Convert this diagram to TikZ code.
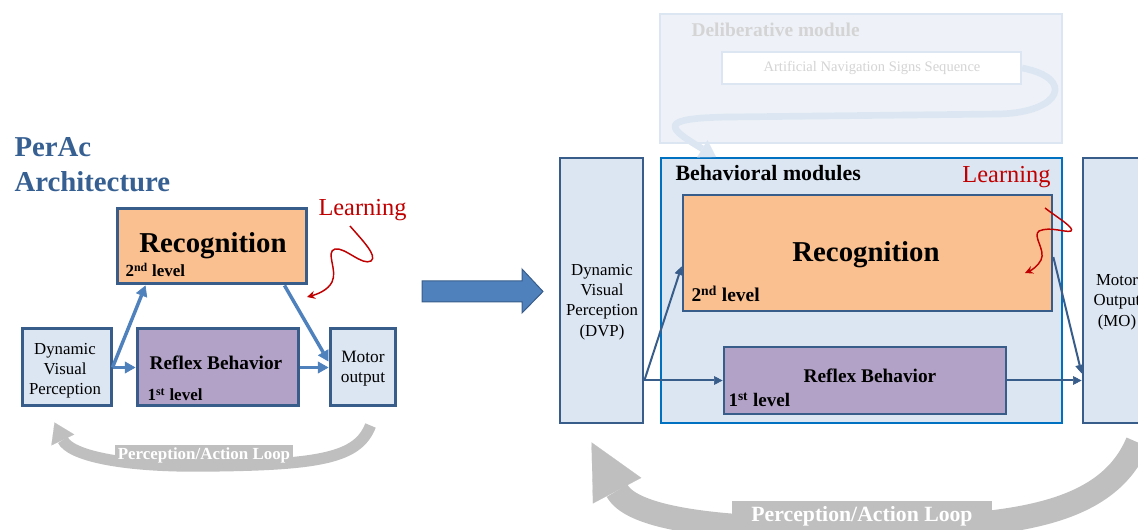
\documentclass[tikz,border=0pt]{standalone}
\usepackage{fontspec}
\setmainfont{Liberation Serif}
\usetikzlibrary{arrows.meta,calc,fit}

\definecolor{boxEdge}{RGB}{56,93,138}
\definecolor{paleBlue}{RGB}{220,230,242}
\definecolor{recogOrange}{RGB}{250,192,144}
\definecolor{reflexPurple}{RGB}{179,162,199}
\definecolor{linkBlue}{RGB}{79,129,189}
\definecolor{behavEdge}{RGB}{0,112,192}
\definecolor{learnRed}{RGB}{192,0,0}
\definecolor{loopGray}{RGB}{191,191,191}
\definecolor{titleBlue}{RGB}{55,96,146}
\definecolor{delibFill}{RGB}{238,242,248}
\definecolor{delibText}{RGB}{212,212,212}

\tikzset{every picture/.style={line width=0.75pt}}
\tikzset{
  boxL/.style={draw=boxEdge, line width=2.25pt, inner sep=0pt},
  boxR/.style={draw=boxEdge, line width=2pt, inner sep=0pt},
  linkL/.style={draw=linkBlue, line width=2.6pt, -{Triangle[length=8pt,width=9pt,line width=0.5pt]}},
  linkR/.style={draw=boxEdge, line width=1.5pt, -{Triangle[length=6.5pt,width=6.5pt,line width=0.5pt]}},
  learnArrow/.style={draw=learnRed, line width=1.1pt, -{Stealth[length=6pt,width=6pt]}},
  loopLabel/.style={fill=loopGray, text=white, inner sep=0pt},
}

\begin{document}
\begin{tikzpicture}[x=0.75pt,y=0.75pt,yscale=-1,xscale=1]
%set diagram size 1138 x 530
\useasboundingbox (0,0) rectangle (1138,530);
\clip (0,0) rectangle (1138,530);

% ---------- left: PerAc architecture ----------
% Text Node
\draw (13,157) node (titleA) [anchor=base west][inner sep=0.75pt] [font=\fontsize{21.6}{26}\selectfont\bfseries, text=titleBlue] {PerAc};
% Text Node
\draw (13,192) node (titleB) [anchor=base west][inner sep=0.75pt] [font=\fontsize{21.6}{26}\selectfont\bfseries, text=titleBlue] {Architecture};

%Shape: Rectangle [id:dp4417]
\node (recogL) [boxL, fill=recogOrange, fit={(117,209) (306,284)}] {};
%Shape: Rectangle [id:dp4418]
\node (dvpL) [boxL, fill=paleBlue, fit={(22,329) (111,406)}] {};
%Shape: Rectangle [id:dp4419]
\node (reflexL) [boxL, fill=reflexPurple, fit={(137,329) (298,406)}] {};
%Shape: Rectangle [id:dp4420]
\node (motorL) [boxL, fill=paleBlue, fit={(330,329) (395,406)}] {};

% Text Node
\draw (213,253) node (recogLtxt) [anchor=base][inner sep=0.75pt] [font=\fontsize{21.6}{26}\selectfont\bfseries] {Recognition};
% Text Node
\draw (124,277) node (lvlTwoL) [anchor=base west][inner sep=0.75pt] [font=\fontsize{12.75}{15}\selectfont\bfseries] {2\textsuperscript{nd} level};
% Text Node
\draw (216,370) node (reflexLtxt) [anchor=base][inner sep=0.75pt] [font=\fontsize{14.5}{17}\selectfont\bfseries] {Reflex Behavior};
% Text Node
\draw (146,401) node (lvlOneL) [anchor=base west][inner sep=0.75pt] [font=\fontsize{12.75}{15}\selectfont\bfseries] {1\textsuperscript{st} level};
% Text Node
\draw (65,371) node (dvpLtxt) [inner sep=0.75pt] [font=\fontsize{12.6}{15}\selectfont, align=center] {Dynamic\\Visual\\Perception};
% Text Node
\draw (363,369) node (motorLtxt) [inner sep=0.75pt] [font=\fontsize{13}{15}\selectfont, align=center] {Motor\\output};

%Straight Lines
\draw [linkL] (dvpL.east) -- ($(recogL.south west)+(30,0)$);
\draw [linkL] (dvpL.east) -- (reflexL.west);
\draw [linkL] ($(recogL.south east)+(-23,0)$) -- ($(motorL.west)+(0,-6)$);
\draw [linkL] (reflexL.east) -- (motorL.west);

% Text Node
\draw (317,216) node (learnL) [anchor=base west][inner sep=0.75pt] [font=\fontsize{18.3}{21}\selectfont, text=learnRed] {Learning};
%Curve Lines
\draw [learnArrow] (350,226) .. controls (362,240) and (378,256) .. (371,261) .. controls (362,266) and (345,247) .. (335,249) .. controls (325,252) and (338,270) .. (332,282) .. controls (328,290) and (318,294) .. (307,297);

%Curve Lines
\draw [draw=loopGray, line width=8.5pt, -{Triangle[length=14.5pt,width=19pt,line width=0.1pt]}] ($(motorL.south)+(8,18)$) .. controls (358,458) and (320,465) .. (205,466) .. controls (120,467) and (70,455) .. ($(dvpL.south)+(-12,15)$);
% Text Node
\node (loopLblL) [loopLabel, minimum width=133.5pt, minimum height=15.75pt, font=\fontsize{12.7}{15}\selectfont\bfseries] at (204,455.5) {Perception/Action Loop};

% ---------- middle arrow ----------
%Shape: Right Arrow [id:dp4421]
\draw [draw=boxEdge, fill=linkBlue, line width=0.75pt] (422,281) -- (522,281) -- (522,269) -- (543,291.5) -- (522,313) -- (522,302) -- (422,302) -- cycle;

% ---------- right: extended architecture ----------
%Shape: Rectangle [id:dp4422]
\node (delib) [draw=paleBlue, fill=delibFill, line width=1.5pt, inner sep=0pt, fit={(660,14) (1062,143)}] {};
%Shape: Rectangle [id:dp4423]
\node (navSeq) [draw=paleBlue, fill=white, line width=1.5pt, inner sep=0pt, fit={(722,52) (1021,84)}] {};
% Text Node
\draw (690,37) node (delibTxt) [anchor=base west][inner sep=0.75pt] [font=\fontsize{14.6}{17}\selectfont\bfseries, text=delibText] {Deliberative module};
% Text Node
\draw (872,72) node (navSeqTxt) [anchor=base][inner sep=0.75pt] [font=\fontsize{10.9}{13}\selectfont, text=delibText] {Artificial Navigation Signs Sequence};

%Shape: Rectangle [id:dp4424]
\node (dvpR) [boxR, fill=paleBlue, fit={(560,158) (643,423)}] {};
%Shape: Rectangle [id:dp4425]
\node (behav) [draw=behavEdge, fill=paleBlue, line width=1.5pt, inner sep=0pt, fit={(661,158) (1062,423)}] {};
%Shape: Rectangle [id:dp4426]
\node (motorR) [boxR, fill=paleBlue, fit={(1083,158) (1152,423)}] {};
%Shape: Rectangle [id:dp4427]
\node (recogR) [boxR, fill=recogOrange, fit={(683,195) (1052,311)}] {};
%Shape: Rectangle [id:dp4428]
\node (reflexR) [boxR, fill=reflexPurple, fit={(724,347) (1006,414)}] {};

%Curve Lines
\draw [draw=paleBlue, line width=5pt, -{Triangle[length=12pt,width=15pt,line width=0.1pt]}] (navSeq.east) .. controls (1075,78) and (1062,112) .. (1000,114) -- (730,117) .. controls (655,118) and (668,128) .. ($(behav.north west)+(56,0)$);

% Text Node
\draw (674,181) node (behavTxt) [anchor=base west][inner sep=0.75pt] [font=\fontsize{16.4}{19}\selectfont\bfseries] {Behavioral modules};
% Text Node
\draw (1052,183) node (learnR) [anchor=base east][inner sep=0.75pt] [font=\fontsize{18.3}{21}\selectfont, text=learnRed] {Learning};
% Text Node
\draw (866,262) node (recogRtxt) [anchor=base][inner sep=0.75pt] [font=\fontsize{21.6}{26}\selectfont\bfseries] {Recognition};
% Text Node
\draw (690,302) node (lvlTwoR) [anchor=base west][inner sep=0.75pt] [font=\fontsize{14.6}{17}\selectfont\bfseries] {2\textsuperscript{nd} level};
% Text Node
\draw (870,383) node (reflexRtxt) [anchor=base][inner sep=0.75pt] [font=\fontsize{14.5}{17}\selectfont\bfseries] {Reflex Behavior};
% Text Node
\draw (727,407) node (lvlOneR) [anchor=base west][inner sep=0.75pt] [font=\fontsize{14.3}{17}\selectfont\bfseries] {1\textsuperscript{st} level};
% Text Node
\draw (602,302) node (dvpRtxt) [inner sep=0.75pt] [font=\fontsize{12.6}{15.3}\selectfont, align=center] {Dynamic\\Visual\\Perception\\(DVP)};
% Text Node
\draw (1117,302) node (motorRtxt) [inner sep=0.75pt] [font=\fontsize{12.6}{15.3}\selectfont, align=center] {Motor\\Output\\(MO)};

%Straight Lines
\coordinate (dvpOut) at (dvpR.east |- reflexR.west);
\coordinate (moIn) at (motorR.west |- reflexR.east);
\draw [linkR] (dvpOut) -- ($(recogR.south west)+(0,-46)$);
\draw [linkR] (dvpOut) -- (reflexR.west);
\draw [linkR] ($(recogR.east)+(0,4)$) -- ($(moIn)+(0,-7)$);
\draw [linkR] (reflexR.east) -- (moIn);

%Curve Lines
\draw [learnArrow] (1045,208) .. controls (1058,218) and (1075,228) .. (1071,231) .. controls (1066,233) and (1050,226) .. (1039,231) .. controls (1032,236) and (1046,250) .. (1041,260) .. controls (1038,266) and (1032,270) .. (1025,273);

%Curve Lines
\draw [draw=loopGray, line width=18pt, -{Triangle[length=41pt,width=41pt,line width=0.1pt]}] ($(motorR.south)+(20,18)$) .. controls (1105,520) and (1000,527) .. (860,529) .. controls (700,531) and (630,515) .. ($(dvpR.south)+(-10,18)$);
% Text Node
\node (loopLblR) [loopLabel, minimum width=195pt, minimum height=22.5pt, font=\fontsize{16.3}{19}\selectfont\bfseries] at (862,516) {Perception/Action Loop};

\end{tikzpicture}
\end{document}
